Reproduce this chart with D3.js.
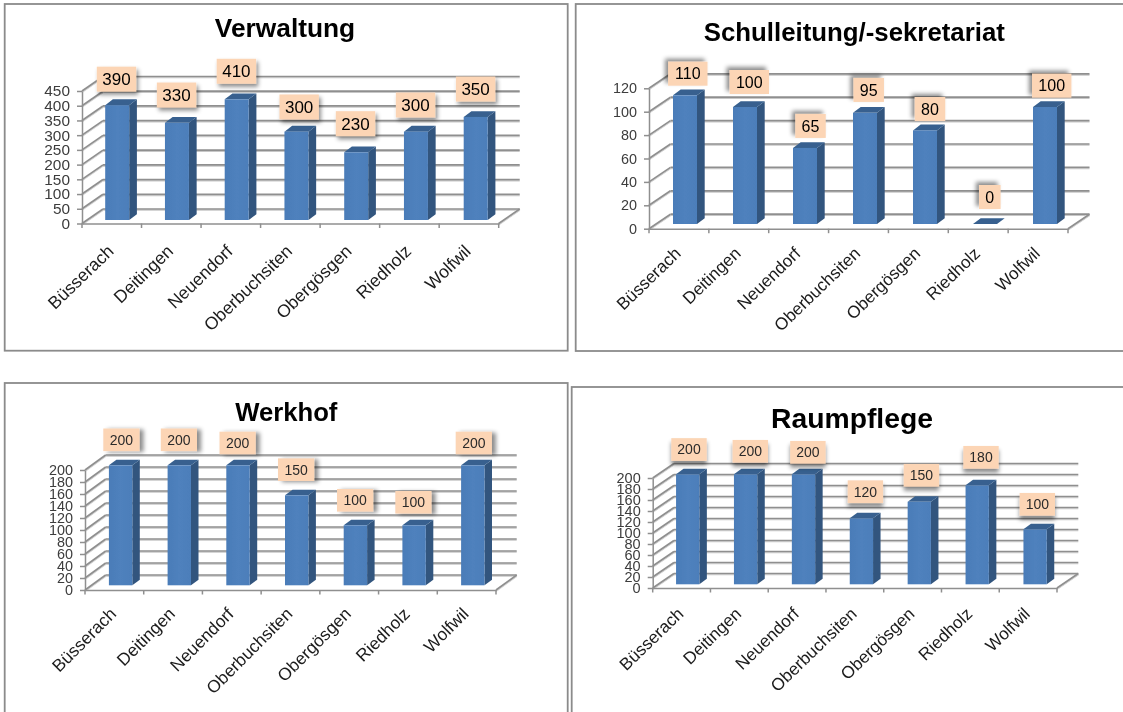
<!DOCTYPE html>
<html>
<head>
<meta charset="utf-8">
<script src="https://cdn.jsdelivr.net/npm/d3@7/dist/d3.min.js"></script>
<style>
html,body{margin:0;padding:0;background:#fff;overflow:hidden}
svg{display:block}
text{font-family:"Liberation Sans",Arial,sans-serif}
</style>
</head>
<body>
<svg id="chart" width="1123" height="712"></svg>
<script>
// ---------- data ----------
const categories = ["Büsserach","Deitingen","Neuendorf","Oberbuchsiten","Obergösgen","Riedholz","Wolfwil"];
const verwaltung = [390,330,410,300,230,300,350];
const schulleitung = [110,100,65,95,80,0,100];
const werkhof = [200,200,200,150,100,100,200];
const raumpflege = [200,200,200,120,150,180,100];
const ticksVerwaltung = [0,50,100,150,200,250,300,350,400,450];
const ticksSchulleitung = [0,20,40,60,80,100,120];
const ticksTwoHundred = [0,20,40,60,80,100,120,140,160,180,200];

// ---------- layout (hand-placed callout offsets belong here, not to the data) ----------
const panels = [
 {title:"Verwaltung", values:verwaltung, ticks:ticksVerwaltung,
  frame:[4.7,4,563,346.7], titleX:285, titleY:36.5, titleSize:26.3,
  ax0:82, ax1:498.7, y0:223.5, y1:91, back:[21,-14.5],
  bar0:117.2, barStep:59.75, barW:24, barBase:220, depth:[7.7,5.8],
  tickSize:15.4, tickPad:7, labelSize:17, boxW:39.4, boxH:25,
  xSize:17.6, xOff:[3,29], xRot:-44, shadow:[2,3],
  off:[[-.7,-26],[-.4,-27.8],[-.3,-28],[2.7,-24.7],[-.7,-28.6],[-.4,-26.7],[-.1,-27.9]]},
 {title:"Schulleitung/-sekretariat", values:schulleitung, ticks:ticksSchulleitung,
  frame:[575.7,4,560,347], titleX:854.3, titleY:40.5, titleSize:25.8,
  ax0:649, ax1:1068, y0:228.7, y1:88.3, back:[21.5,-14.5],
  bar0:685, barStep:60, barW:24, barBase:224, depth:[7.7,5.8],
  tickSize:14.4, tickPad:7, labelSize:16, boxW:39.4, boxH:24,
  xSize:17.2, xOff:[3,26], xRot:-44, shadow:[-3,-3],
  off:[[2.8,-21.6],[4.3,-25],[5.5,-22],[3.7,-22.9],[5,-21.4],[4.8,-27],[6.7,-21.3]]},
 {title:"Werkhof", values:werkhof, ticks:ticksTwoHundred,
  frame:[4.7,383,563,340], titleX:286.3, titleY:420.7, titleSize:25.7,
  ax0:85, ax1:496, y0:590, y1:470, back:[20.7,-15],
  bar0:120.6, barStep:58.7, barW:23.4, barBase:585.3, depth:[7.5,5.6],
  tickSize:14.4, tickPad:7, labelSize:14, boxW:36.2, boxH:22.6,
  xSize:17.4, xOff:[3,25], xRot:-45, shadow:[4,1],
  off:[[.8,-25.5],[-.4,-25.5],[-.4,-22.3],[-.6,-25.6],[-.3,-25],[-.7,-23],[1,-22.3]]},
 {title:"Raumpflege", values:raumpflege, ticks:ticksTwoHundred,
  frame:[571.7,387,560,340], titleX:852, titleY:428, titleSize:28.3,
  ax0:652.7, ax1:1057, y0:588, y1:478, back:[21.3,-14.5],
  bar0:687.7, barStep:57.9, barW:23.3, barBase:584.3, depth:[7.5,5.6],
  tickSize:14.5, tickPad:7, labelSize:14, boxW:35.4, boxH:22.7,
  xSize:17.2, xOff:[3,27], xRot:-44, shadow:[0,4],
  off:[[1.3,-24.8],[4.7,-23],[4.4,-22],[4,-26.6],[2.1,-26.5],[3.8,-28],[2.2,-25]]}
];

const GRID = "#8f8f8f", BLUE = "#4f81bd", SIDE = "#31547e", TOP = "#37618f";
const svg = d3.select("#chart");
const defs = svg.append("defs");
const softBlur = defs.append("filter").attr("id","soft")
  .attr("filterUnits","userSpaceOnUse").attr("x",0).attr("y",0).attr("width",1123).attr("height",712);
softBlur.append("feGaussianBlur").attr("stdDeviation",0.45);
const gridShadow = defs.append("filter").attr("id","gridShadow")
  .attr("filterUnits","userSpaceOnUse").attr("x",0).attr("y",0).attr("width",1123).attr("height",712);
gridShadow.append("feDropShadow").attr("dx",0).attr("dy",1).attr("stdDeviation",0.6)
  .attr("flood-color","#000").attr("flood-opacity",0.22);
const grad = defs.append("linearGradient").attr("id","front").attr("x1",0).attr("x2",1).attr("y1",0).attr("y2",0);
grad.append("stop").attr("offset",0).attr("stop-color","#4a7cb8");
grad.append("stop").attr("offset",.5).attr("stop-color",BLUE);
grad.append("stop").attr("offset",1).attr("stop-color","#4c7eba");

const root = svg.append("g").attr("filter","url(#soft)");
root.append("rect").attr("width",1123).attr("height",712).attr("fill","#fff");

panels.forEach((p,pi) => {
  const g = root.append("g");
  g.append("rect").attr("x",p.frame[0]).attr("y",p.frame[1]).attr("width",p.frame[2]).attr("height",p.frame[3])
    .attr("fill","#fff").attr("stroke","#8b8b8b").attr("stroke-width",1.8);

  g.append("text").text(p.title).attr("x",p.titleX).attr("y",p.titleY)
    .attr("text-anchor","middle").attr("font-weight","bold").attr("font-size",p.titleSize).attr("fill","#000");

  const yMax = d3.max(p.ticks);
  const y = d3.scaleLinear().domain([0,yMax]).range([p.y0,p.y1]);
  const yBar = d3.scaleLinear().domain([0,yMax]).range([p.barBase,p.barBase-(p.y0-p.y1)]);
  const x = d3.scaleBand().domain(categories).range([p.ax0,p.ax1]).paddingInner(0).paddingOuter(0);
  const xBar = d3.scaleBand().domain(categories)
    .range([p.bar0-p.barStep/2, p.bar0+p.barStep*(categories.length-.5)]).paddingInner(0).paddingOuter(0);
  const [bx,by] = p.back;

  // walls and floor
  const grid = g.append("g").attr("filter","url(#gridShadow)")
    .attr("stroke",GRID).attr("stroke-width",1.7).attr("fill","none");
  grid.selectAll(".back").data(p.ticks).join("line")
    .attr("x1",p.ax0+bx).attr("x2",p.ax1+bx).attr("y1",d=>y(d)+by).attr("y2",d=>y(d)+by);
  grid.selectAll(".wall").data(p.ticks).join("line").attr("class","wall")
    .attr("x1",p.ax0).attr("x2",p.ax0+bx).attr("y1",d=>y(d)).attr("y2",d=>y(d)+by);
  grid.append("line").attr("x1",p.ax1).attr("x2",p.ax1+bx).attr("y1",y(0)).attr("y2",y(0)+by);

  // axes
  const yAxis = g.append("g").attr("transform",`translate(${p.ax0},0)`)
    .call(d3.axisLeft(y).tickValues(p.ticks).tickSize(5).tickPadding(p.tickPad).tickSizeOuter(0));
  yAxis.selectAll("path,line").attr("stroke",GRID).attr("stroke-width",1.5);
  yAxis.selectAll("text").attr("font-size",p.tickSize).attr("fill","#3c3c3c")
    .style("font-family",'"Liberation Sans",Arial,sans-serif');

  const xAxis = g.append("g").attr("transform",`translate(0,${p.y0})`)
    .call(d3.axisBottom(x).tickSize(0).tickSizeOuter(0).tickFormat(d=>d));
  xAxis.select("path").attr("stroke",GRID).attr("stroke-width",1.5);
  xAxis.selectAll("line").remove();
  xAxis.selectAll("text")
    .attr("font-size",p.xSize).attr("fill","#1c1c1c")
    .style("font-family",'"Liberation Sans",Arial,sans-serif')
    .attr("text-anchor","end").attr("dy",0).attr("y",0)
    .attr("transform",`translate(${p.xOff[0]},${p.xOff[1]}) rotate(${p.xRot})`);
  const edges = categories.map(c=>x(c)).concat([p.ax1]);
  g.selectAll(".xt").data(edges).join("line")
    .attr("x1",d=>d).attr("x2",d=>d).attr("y1",p.y0).attr("y2",p.y0+4.5)
    .attr("stroke",GRID).attr("stroke-width",1.5);

  // bars
  const [dx,dy] = p.depth;
  const bars = g.selectAll(".bar").data(p.values.map((v,i)=>({v,i,c:categories[i]}))).join("g");
  const left = d => xBar(d.c)+xBar.bandwidth()/2-p.barW/2;
  bars.append("path").attr("fill",SIDE).attr("d",d=>{
    const X=left(d)+p.barW, t=yBar(d.v);
    return `M${X},${t}L${X+dx},${t-dy}L${X+dx},${p.barBase-dy}L${X},${p.barBase}Z`;
  });
  bars.append("path").attr("fill",TOP).attr("d",d=>{
    const X=left(d), t=yBar(d.v);
    return `M${X},${t}L${X+dx},${t-dy}L${X+p.barW+dx},${t-dy}L${X+p.barW},${t}Z`;
  });
  bars.append("rect").attr("x",left).attr("width",p.barW)
    .attr("y",d=>yBar(d.v)).attr("height",d=>p.barBase-yBar(d.v)).attr("fill","url(#front)");

  // callouts
  const fid = "lab"+pi;
  const f = defs.append("filter").attr("id",fid).attr("x","-40%").attr("y","-40%").attr("width","180%").attr("height","180%");
  f.append("feDropShadow").attr("dx",p.shadow[0]).attr("dy",p.shadow[1]).attr("stdDeviation",2.2)
    .attr("flood-color","#000").attr("flood-opacity",0.45);
  const labs = g.selectAll(".lab").data(p.values.map((v,i)=>({v,i,c:categories[i]}))).join("g")
    .attr("transform",d=>`translate(${xBar(d.c)+xBar.bandwidth()/2+p.off[d.i][0]},${yBar(d.v)+p.off[d.i][1]})`);
  const txtW = d => String(d.v).length*0.556*p.labelSize;
  const boxW = d => String(d.v).length===3 ? p.boxW : txtW(d)+ (p.boxW-1.668*p.labelSize);
  labs.append("rect").attr("x",d=>-boxW(d)/2).attr("y",-p.boxH/2).attr("width",boxW).attr("height",p.boxH)
    .attr("fill","#fcd5b5").attr("filter",`url(#${fid})`);
  labs.append("text").text(d=>d.v).attr("text-anchor","middle").attr("dy","0.35em")
    .attr("font-size",p.labelSize).attr("fill",p.labelSize>15?"#000":"#2a2a2a");
});
</script>
</body>
</html>
